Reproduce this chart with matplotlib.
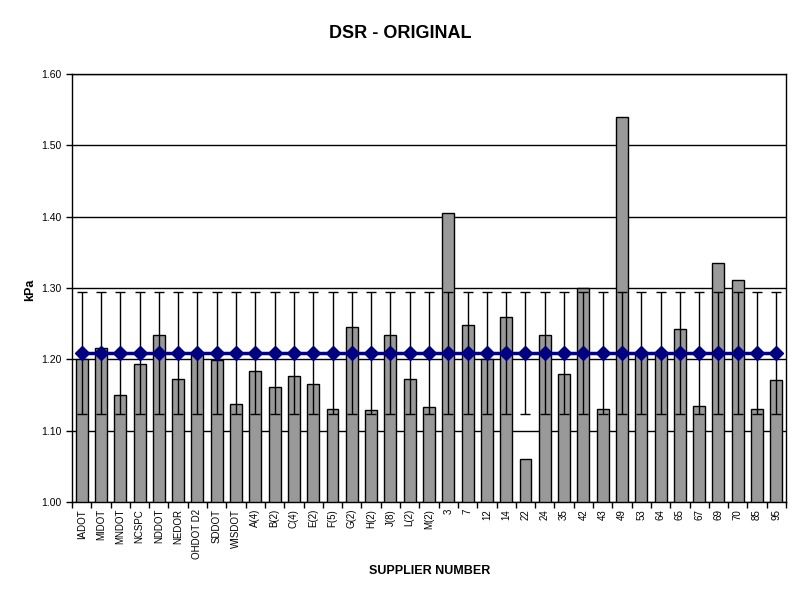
import matplotlib
matplotlib.use("Agg")
import matplotlib.pyplot as plt
import numpy as np
from matplotlib.ticker import FormatStrFormatter

plt.rcParams['font.family'] = ['Liberation Sans', 'DejaVu Sans']

categories = ["IADOT", "MIDOT", "MNDOT", "NCSPC", "NDDOT", "NEDOR", "OHDOT D2", "SDDOT",
              "WISDOT", "A(4)", "B(2)", "C(4)", "E(2)", "F(5)", "G(2)", "H(2)", "J(8)",
              "L(2)", "M(2)", "3", "7", "12", "14", "22", "24", "35", "42", "43", "49",
              "53", "64", "65", "67", "69", "70", "85", "95"]
values = [1.200, 1.216, 1.150, 1.193, 1.234, 1.173, 1.208, 1.199,
          1.138, 1.183, 1.161, 1.176, 1.165, 1.130, 1.245, 1.129, 1.234,
          1.173, 1.133, 1.405, 1.248, 1.200, 1.260, 1.060, 1.234, 1.180, 1.300, 1.130, 1.540,
          1.207, 1.207, 1.242, 1.134, 1.335, 1.311, 1.130, 1.171]
mean_value = 1.209
mean_series = [mean_value] * len(categories)
error_value = 0.086
y_ticks = [1.00, 1.10, 1.20, 1.30, 1.40, 1.50, 1.60]

fig = plt.figure(figsize=(8, 6), dpi=100)
ax = fig.add_axes([72/800, 1-502/600, (786-72)/800, (502-74)/600])
x = np.arange(len(categories))

ax.bar(x, values, width=0.62, color='#999999', edgecolor='black', linewidth=1, zorder=2)
ax.errorbar(x, mean_series, yerr=error_value, fmt='none', ecolor='black',
            elinewidth=1, capsize=3.5, capthick=1, zorder=3)
ax.plot(x, mean_series, color='#000080', lw=2.5, marker='D', ms=7,
        markeredgecolor='#000080', zorder=4)

ax.set_xlim(-0.5, len(categories) - 0.5)
ax.set_ylim(1.0, 1.6)
ax.set_yticks(y_ticks)
ax.yaxis.set_major_formatter(FormatStrFormatter('%.2f'))
ax.yaxis.grid(True, color='black', lw=1)
ax.set_axisbelow(True)
ax.tick_params(axis='y', labelsize=7.5, length=4, width=1, direction='out', colors='black')

ax.set_xticks(x)
ax.set_xticklabels(categories, rotation=90, fontsize=7)
ax.tick_params(axis='x', which='major', length=0, pad=5)
ax.set_xticks(np.arange(-0.5, len(categories), 1), minor=True)
ax.tick_params(axis='x', which='minor', length=4, width=1, direction='out')

for s in ax.spines.values():
    s.set_color('black')
    s.set_linewidth(1)

fig.text(0.5, 1-33/600, 'DSR - ORIGINAL', ha='center', va='center', fontsize=13, fontweight='bold')
fig.text(430/800, 1-571/600, 'SUPPLIER NUMBER', ha='center', va='center', fontsize=9, fontweight='bold')
fig.text(30/800, 1-290/600, 'kPa', ha='center', va='center', rotation=90, fontsize=9, fontweight='bold')

fig.savefig('out.png', dpi=100)
